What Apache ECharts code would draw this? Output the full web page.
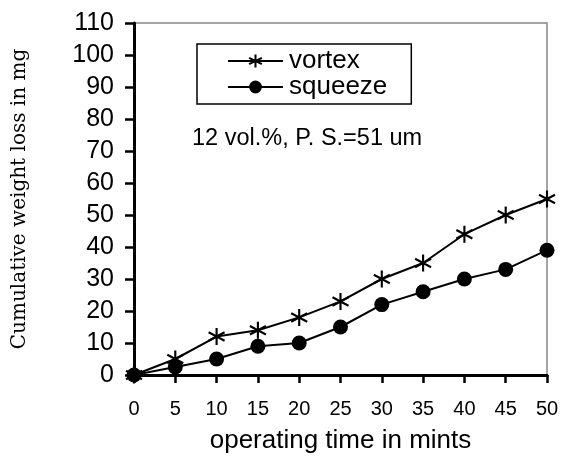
<!DOCTYPE html>
<html>
<head>
<meta charset="utf-8">
<script src="https://cdn.jsdelivr.net/npm/echarts@6/dist/echarts.min.js"></script>
<style>html,body{margin:0;padding:0;background:#fff;}#c{width:567px;height:467px;}</style>
</head>
<body>
<div id="c"></div>
<script>
var times = [0, 5, 10, 15, 20, 25, 30, 35, 40, 45, 50];
var vortex = [0, 5, 12, 14, 18, 23, 30, 35, 44, 50, 55];
var squeeze = [0, 2.5, 5, 9, 10, 15, 22, 26, 30, 33, 39];
var seriesNames = ['vortex', 'squeeze'];
var xTitle = 'operating time in mints';
var yTitle = 'Cumulative weight loss in mg';
var note = '12 vol.%, P. S.=51 um';

function pairs(vals) { return times.map(function (t, i) { return [t, vals[i]]; }); }

var chart = echarts.init(document.getElementById('c'), null, { renderer: 'canvas' });
var font = '"Liberation Sans", Arial, sans-serif';
var star = 'path://M0,-1L0,1M-0.866,-0.5L0.866,0.5M-0.866,0.5L0.866,-0.5';
chart.setOption({
  backgroundColor: '#fff',
  animation: false,
  grid: { left: 134, right: 20, top: 23, bottom: 92, show: true, borderColor: '#888', borderWidth: 1.5, backgroundColor: 'transparent' },
  legend: {
    left: 197, top: 44, orient: 'vertical',
    padding: [4, 24, 4, 30],
    borderColor: '#000', borderWidth: 1.5,
    itemGap: 0, itemWidth: 55, itemHeight: 16,
    textStyle: { fontFamily: font, fontSize: 26, color: '#000', padding: [0, 0, 0, 1] },
    data: seriesNames
  },
  graphic: [{
    type: 'text', left: 192, top: 127,
    style: { text: note, font: '23.5px ' + font, fill: '#000' }
  }],
  xAxis: {
    type: 'value', min: 0, max: 50, interval: 5,
    name: xTitle, nameLocation: 'middle', nameGap: 53,
    nameTextStyle: { fontFamily: font, fontSize: 26, color: '#000' },
    axisLine: { onZero: false, lineStyle: { color: '#000', width: 3 } },
    axisTick: { length: 8, lineStyle: { color: '#000', width: 2.5 } },
    axisLabel: { fontFamily: font, fontSize: 20, color: '#000', margin: 24 },
    splitLine: { show: false }
  },
  yAxis: {
    type: 'value', min: 0, max: 110, interval: 10,
    name: yTitle, nameLocation: 'middle', nameGap: 104,
    nameTextStyle: { fontFamily: '"DejaVu Serif", serif', fontSize: 20, color: '#000' },
    axisLine: { onZero: false, lineStyle: { color: '#000', width: 3 } },
    axisTick: { length: 9, lineStyle: { color: '#000', width: 2.5 } },
    axisLabel: { fontFamily: font, fontSize: 25, color: '#000', margin: 20 },
    splitLine: { show: false }
  },
  series: [
    {
      name: seriesNames[0], type: 'line', data: pairs(vortex),
      symbol: star, symbolSize: [16, 17], showAllSymbol: true,
      lineStyle: { color: '#000', width: 2 },
      itemStyle: { color: '#000', borderColor: '#000', borderWidth: 2.2 },
      z: 3
    },
    {
      name: seriesNames[1], type: 'line', data: pairs(squeeze),
      symbol: 'circle', symbolSize: 15, showAllSymbol: true,
      lineStyle: { color: '#000', width: 2 },
      itemStyle: { color: '#000', borderColor: '#000', borderWidth: 0 },
      z: 2
    }
  ]
});
</script>
</body>
</html>
